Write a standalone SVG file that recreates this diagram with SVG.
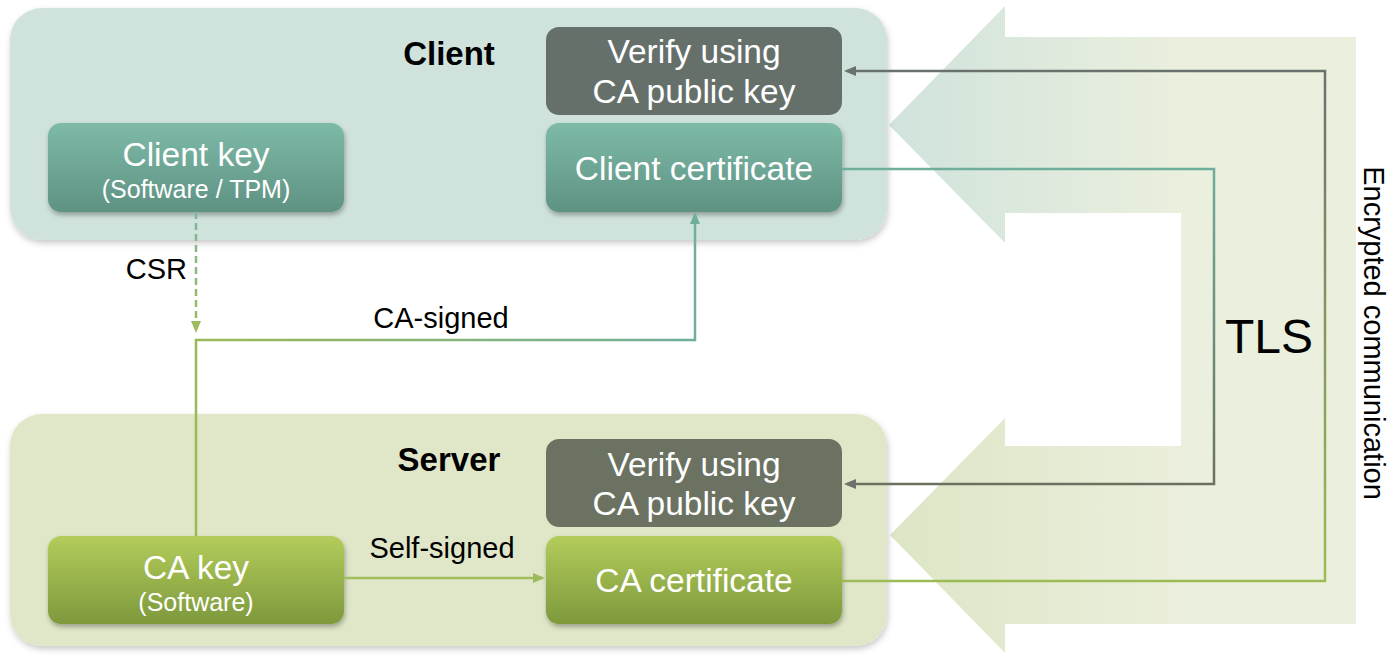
<svg xmlns="http://www.w3.org/2000/svg" width="1393" height="660" viewBox="0 0 1393 660">
<defs>
<style>
text{font-family:"Liberation Sans",Arial,Helvetica,sans-serif}
.title{font-size:33px;font-weight:bold;fill:#000;text-anchor:middle}
.nt{font-size:33.5px;fill:#fff;text-anchor:middle}
.ns{font-size:25px;fill:#fff;text-anchor:middle}
.lbl{font-size:29px;fill:#000}
.conn{fill:none;stroke-width:2.5}
</style>
<filter id="sh" x="-10%" y="-10%" width="120%" height="130%">
<feDropShadow dx="1" dy="3" stdDeviation="2.5" flood-color="#000" flood-opacity="0.3"/>
</filter>
<filter id="shp" x="-5%" y="-10%" width="110%" height="125%">
<feDropShadow dx="1" dy="3" stdDeviation="3" flood-color="#000" flood-opacity="0.22"/>
</filter>
<linearGradient id="gTeal" x1="0" y1="0" x2="0" y2="1">
<stop offset="0" stop-color="#7dbaa7"/><stop offset="1" stop-color="#5f9283"/>
</linearGradient>
<linearGradient id="gGreen" x1="0" y1="0" x2="0" y2="1">
<stop offset="0" stop-color="#b3cc5b"/><stop offset="1" stop-color="#7d993c"/>
</linearGradient>
<linearGradient id="gUp" gradientUnits="userSpaceOnUse" x1="889" y1="0" x2="1190" y2="0">
<stop offset="0" stop-color="#d0e3dc"/><stop offset="1" stop-color="#ebefdd"/>
</linearGradient>
<linearGradient id="gLow" gradientUnits="userSpaceOnUse" x1="890" y1="0" x2="1190" y2="0">
<stop offset="0" stop-color="#dce6c5"/><stop offset="1" stop-color="#ebefdd"/>
</linearGradient>
<linearGradient id="gCA" gradientUnits="userSpaceOnUse" x1="196" y1="0" x2="695" y2="0">
<stop offset="0" stop-color="#9bb857"/><stop offset="1" stop-color="#70ae9a"/>
</linearGradient>
<linearGradient id="gCSR" gradientUnits="userSpaceOnUse" x1="0" y1="212" x2="0" y2="332">
<stop offset="0" stop-color="#7fb5a0"/><stop offset="1" stop-color="#9dbb5c"/>
</linearGradient>
<linearGradient id="gTLS" gradientUnits="userSpaceOnUse" x1="0" y1="169" x2="0" y2="484">
<stop offset="0" stop-color="#6fae9a"/><stop offset="1" stop-color="#6a715f"/>
</linearGradient>
<linearGradient id="gEnc" gradientUnits="userSpaceOnUse" x1="0" y1="71" x2="0" y2="581">
<stop offset="0" stop-color="#69726d"/><stop offset="1" stop-color="#9dbb55"/>
</linearGradient>
<marker id="aGray" viewBox="0 0 12 10" markerWidth="12" markerHeight="10" markerUnits="userSpaceOnUse" refX="9" refY="5" orient="auto">
<path d="M0,0 L12,5 L0,10 z" fill="#6a726b"/>
</marker>
<marker id="aTeal" viewBox="0 0 12 10" markerWidth="12" markerHeight="10" markerUnits="userSpaceOnUse" refX="9" refY="5" orient="auto">
<path d="M0,0 L12,5 L0,10 z" fill="#70ae9a"/>
</marker>
<marker id="aGreen" viewBox="0 0 12 10" markerWidth="12" markerHeight="10" markerUnits="userSpaceOnUse" refX="9" refY="5" orient="auto">
<path d="M0,0 L12,5 L0,10 z" fill="#9dbb5c"/>
</marker>
</defs>
<rect width="1393" height="660" fill="#fff"/>

<g id="tls-band">
<polygon points="1181,37 1356,37 1356,624 1005,624 1005,653 890,535 1005,418 1005,446 1181,446" fill="url(#gLow)"/>
<polygon points="889,125 1005,6 1005,37 1356,37 1356,213 1005,213 1005,243" fill="url(#gUp)"/>
</g>

<g id="client-panel">
<rect x="10" y="8" width="877" height="232" rx="32" fill="#cfe2dc" filter="url(#shp)"/>
<text class="title" x="449" y="65">Client</text>
</g>
<g id="server-panel">
<rect x="10" y="414" width="877" height="232" rx="32" fill="#e0e7c8" filter="url(#shp)"/>
<text class="title" x="449" y="471">Server</text>
</g>

<g id="client-key">
<rect x="48" y="123" width="296" height="89" rx="13" fill="url(#gTeal)" filter="url(#sh)"/>
<text class="nt" x="196" y="166">Client key</text>
<text class="ns" x="196" y="198">(Software / TPM)</text>
</g>
<g id="client-verify">
<rect x="546" y="27" width="296" height="88" rx="13" fill="#66706b"/>
<text class="nt" x="694" y="63">Verify using</text>
<text class="nt" x="694" y="103">CA public key</text>
</g>
<g id="client-cert">
<rect x="546" y="123" width="296" height="89" rx="13" fill="url(#gTeal)" filter="url(#sh)"/>
<text class="nt" x="694" y="180">Client certificate</text>
</g>
<g id="server-verify">
<rect x="546" y="439" width="296" height="88" rx="13" fill="#6b7261"/>
<text class="nt" x="694" y="476">Verify using</text>
<text class="nt" x="694" y="515">CA public key</text>
</g>
<g id="ca-key">
<rect x="48" y="536" width="296" height="88" rx="13" fill="url(#gGreen)" filter="url(#sh)"/>
<text class="nt" x="196" y="579">CA key</text>
<text class="ns" x="196" y="611">(Software)</text>
</g>
<g id="ca-cert">
<rect x="546" y="536" width="296" height="88" rx="13" fill="url(#gGreen)" filter="url(#sh)"/>
<text class="nt" x="694" y="592">CA certificate</text>
</g>

<g id="connectors">
<path class="conn" d="M196,212 V330" stroke="url(#gCSR)" stroke-dasharray="7,4" marker-end="url(#aGreen)"/>
<path class="conn" d="M196,536 V340 H695 V215" stroke="url(#gCA)" marker-end="url(#aTeal)"/>
<path class="conn" d="M344,578 H542" stroke="#a0be5e" marker-end="url(#aGreen)"/>
<path class="conn" d="M842,169 H1214 V484 H847" stroke="url(#gTLS)" marker-end="url(#aGray)"/>
<path class="conn" d="M842,581 H1325 V71 H847" stroke="url(#gEnc)" marker-end="url(#aGray)"/>
</g>

<g id="labels">
<text class="lbl" x="187" y="279" text-anchor="end">CSR</text>
<text class="lbl" x="441" y="328" text-anchor="middle">CA-signed</text>
<text class="lbl" x="442" y="558" text-anchor="middle">Self-signed</text>
<text x="1225" y="353" style="font-size:48px;fill:#000">TLS</text>
<text class="lbl" transform="translate(1364,333) rotate(90)" text-anchor="middle">Encrypted communication</text>
</g>
</svg>
